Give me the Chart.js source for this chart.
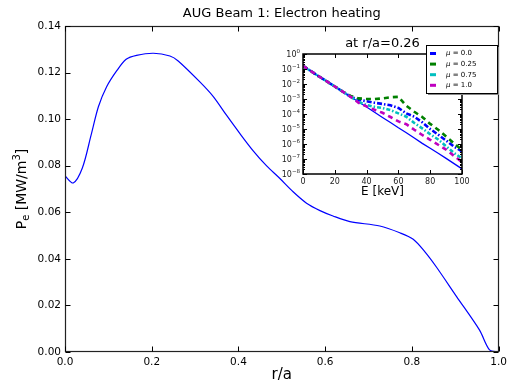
<!DOCTYPE html>
<html>
<head>
<meta charset="utf-8">
<script src="https://cdn.jsdelivr.net/npm/chart.js@4.4.0/dist/chart.umd.min.js"></script>
<style>
html, body { margin: 0; padding: 0; background: #fff; }
#wrap { position: relative; width: 511px; height: 383px; }
canvas { position: absolute; left: 0; top: 0; }
</style>
</head>
<body>
<div id="wrap">
  <canvas id="mainChart" width="511" height="383"></canvas>
  <canvas id="insetChart" width="511" height="383"></canvas>
</div>
<script>
// main profile: electron heating power vs r/a
const rOverA = [0.000, 0.019, 0.040, 0.060, 0.077, 0.096, 0.119, 0.141, 0.165, 0.204, 0.242, 0.261,
    0.311, 0.342, 0.372, 0.403, 0.434, 0.465, 0.495, 0.526, 0.557, 0.588, 0.618, 0.657, 0.726,
    0.772, 0.803, 0.830, 0.856, 0.903, 0.956, 0.979, 1.000];
const pElectron = [0.0756, 0.0726, 0.0790, 0.0930, 0.1053, 0.1139, 0.1207, 0.1257, 0.1274, 0.1283, 0.1271, 0.1250,
    0.1160, 0.1097, 0.1018, 0.0939, 0.0864, 0.0799, 0.0746, 0.0688, 0.0639, 0.0607, 0.0584, 0.0560, 0.0541,
    0.0512, 0.0484, 0.0430, 0.0366, 0.0238, 0.0094, 0.0009, 0.0000];
const mainXTicks = [0.0, 0.2, 0.4, 0.6, 0.8, 1.0];
const mainYTicks = [0.00, 0.02, 0.04, 0.06, 0.08, 0.10, 0.12, 0.14];

// inset: distribution at r/a = 0.26
const energy = [0, 5, 10, 15, 20, 25, 30, 35, 40, 45, 50, 55, 60, 65, 70, 75, 80, 85, 90, 95, 100];
const fMu00 = [1.6e-1, 7.2e-2, 3.2e-2, 1.5e-2, 6.8e-3, 3.1e-3, 1.4e-3, 8.9e-4, 7.1e-4, 5.6e-4, 4.7e-4,
    3.8e-4, 2.5e-4, 1.1e-4, 6.6e-5, 2.8e-5, 1.0e-5, 4.2e-6, 1.7e-6, 6.6e-7, 3.2e-7];
const fMu025 = [1.6e-1, 7.2e-2, 3.2e-2, 1.5e-2, 6.8e-3, 3.1e-3, 1.6e-3, 1.1e-3, 1.0e-3, 1.0e-3, 1.1e-3,
    1.3e-3, 1.4e-3, 3.5e-4, 1.4e-4, 6.3e-5, 2.2e-5, 8.9e-6, 3.2e-6, 1.1e-6, 4.0e-7];
const fMu075 = [1.6e-1, 7.2e-2, 3.2e-2, 1.5e-2, 6.8e-3, 3.1e-3, 1.4e-3, 6.3e-4, 4.0e-4, 3.0e-4, 2.5e-4,
    1.8e-4, 1.1e-4, 6.6e-5, 2.5e-5, 1.1e-5, 4.5e-6, 2.0e-6, 7.1e-7, 2.5e-7, 1.1e-7];
const fMu10 = [1.6e-1, 7.2e-2, 3.2e-2, 1.5e-2, 6.8e-3, 3.1e-3, 1.4e-3, 5.6e-4, 3.2e-4, 1.9e-4, 1.2e-4,
    6.3e-5, 3.2e-5, 2.1e-5, 8.9e-6, 4.0e-6, 1.9e-6, 8.9e-7, 4.2e-7, 1.6e-7, 6.3e-8];
const fBase = [1.6e-1, 7.2e-2, 3.2e-2, 1.5e-2, 6.8e-3, 3.1e-3, 1.4e-3, 6.3e-4, 2.9e-4, 1.3e-4, 5.9e-5,
    2.7e-5, 1.2e-5, 5.6e-6, 2.5e-6, 1.1e-6, 5.2e-7, 2.4e-7, 1.1e-7, 4.9e-8, 2.2e-8];
const insetXTicks = [0, 20, 40, 60, 80, 100];
const insetYExps = [0, -1, -2, -3, -4, -5, -6, -7, -8];

const FONT = "'DejaVu Sans', 'Liberation Sans', sans-serif";

function pts(xs, ys) {
    return xs.map((x, i) => ({ x: x, y: ys[i] }));
}

// draw text made of pieces (for sub/superscripts)
function drawParts(ctx, parts, x, y, align) {
    let total = 0;
    parts.forEach(p => {
        ctx.font = (p.style || '') + ' ' + p.size + 'px ' + FONT;
        p.w = ctx.measureText(p.t).width;
        total += p.w;
    });
    let cx = align === 'right' ? x - total : (align === 'left' ? x : x - total / 2);
    parts.forEach(p => {
        ctx.font = (p.style || '') + ' ' + p.size + 'px ' + FONT;
        ctx.fillText(p.t, cx, y + (p.dy || 0));
        cx += p.w;
    });
}

const mainDecor = {
    id: 'mainDecor',
    afterDraw(chart) {
        const { ctx, chartArea: a, scales } = chart;
        ctx.save();
        ctx.strokeStyle = '#222';
        ctx.lineWidth = 1.2;
        const L = Math.round(a.left) + 0.5, R = Math.round(a.right) - 0.5;
        const T = Math.round(a.top) + 0.5, B = Math.round(a.bottom) - 0.5;
        ctx.strokeRect(L, T, R - L, B - T);
        ctx.lineWidth = 1;
        ctx.strokeStyle = '#000';
        ctx.beginPath();
        mainXTicks.forEach(v => {
            const px = Math.round(scales.x.getPixelForValue(v)) + 0.5;
            ctx.moveTo(px, B); ctx.lineTo(px, B - 5);
            ctx.moveTo(px, T); ctx.lineTo(px, T + 5);
        });
        mainYTicks.forEach(v => {
            const py = Math.round(scales.y.getPixelForValue(v)) + 0.5;
            ctx.moveTo(L, py); ctx.lineTo(L + 5, py);
            ctx.moveTo(R, py); ctx.lineTo(R - 5, py);
        });
        ctx.stroke();

        ctx.fillStyle = '#000';
        ctx.textBaseline = 'middle';
        ctx.textAlign = 'left';
        drawParts(ctx, [{ t: 'AUG Beam 1: Electron heating', size: 13 }], (a.left + a.right) / 2, 14, 'center');
        drawParts(ctx, [{ t: 'r/a', size: 15 }], (a.left + a.right) / 2, 375, 'center');

        ctx.translate(22, (a.top + a.bottom) / 2);
        ctx.rotate(-Math.PI / 2);
        drawParts(ctx, [
            { t: 'P', size: 14 },
            { t: 'e', size: 10, dy: 4 },
            { t: ' [MW/m', size: 14 },
            { t: '3', size: 10, dy: -5 },
            { t: ']', size: 14 }
        ], 0, 0, 'center');
        ctx.restore();
    }
};

const insetDecor = {
    id: 'insetDecor',
    beforeDatasetsDraw(chart) {
        const { ctx, chartArea: a } = chart;
        ctx.save();
        ctx.fillStyle = '#fff';
        ctx.fillRect(a.left, a.top, a.right - a.left, a.bottom - a.top);
        ctx.restore();
    },
    afterDraw(chart) {
        const { ctx, chartArea: a, scales } = chart;
        ctx.save();
        ctx.strokeStyle = '#000';
        ctx.lineWidth = 1.5;
        const L = Math.round(a.left), R = Math.round(a.right);
        const T = Math.round(a.top), B = Math.round(a.bottom);
        ctx.strokeRect(L, T, R - L, B - T);
        ctx.lineWidth = 1;
        ctx.beginPath();
        insetXTicks.forEach(v => {
            const px = Math.round(scales.x.getPixelForValue(v)) + 0.5;
            ctx.moveTo(px, B); ctx.lineTo(px, B - 4);
            ctx.moveTo(px, T); ctx.lineTo(px, T + 4);
        });
        insetYExps.forEach(e => {
            const py = Math.round(scales.y.getPixelForValue(Math.pow(10, e))) + 0.5;
            ctx.moveTo(L, py); ctx.lineTo(L + 4, py);
            ctx.moveTo(R, py); ctx.lineTo(R - 4, py);
            if (e > -8) {
                for (let m = 2; m <= 9; m++) {
                    const pm = Math.round(scales.y.getPixelForValue(m * Math.pow(10, e - 1))) + 0.5;
                    ctx.moveTo(L, pm); ctx.lineTo(L + 2, pm);
                    ctx.moveTo(R, pm); ctx.lineTo(R - 2, pm);
                }
            }
        });
        ctx.stroke();

        // y tick labels with superscripts
        ctx.fillStyle = '#222';
        ctx.textBaseline = 'middle';
        ctx.textAlign = 'left';
        insetYExps.forEach(e => {
            const py = scales.y.getPixelForValue(Math.pow(10, e));
            drawParts(ctx, [
                { t: '10', size: 8 },
                { t: String(e).replace('-', '\u2212'), size: 5.5, dy: -3 }
            ], L - 3, py + 1, 'right');
        });

        ctx.fillStyle = '#000';
        drawParts(ctx, [{ t: 'at r/a=0.26', size: 13 }], (a.left + a.right) / 2, 44, 'center');
        drawParts(ctx, [{ t: 'E [keV]', size: 12 }], (a.left + a.right) / 2, 192, 'center');

        // legend
        const bx = 426, by = 45, bw = 71, bh = 48;
        ctx.fillStyle = '#888';
        ctx.fillRect(bx + 2, by + 2, bw, bh);
        ctx.fillStyle = '#fff';
        ctx.fillRect(bx, by, bw, bh);
        ctx.strokeStyle = '#000';
        ctx.lineWidth = 1;
        ctx.strokeRect(bx + 0.5, by + 0.5, bw, bh);
        const items = chart.data.datasets.filter(d => !d.hideInLegend);
        items.forEach((d, i) => {
            const ry = by + 8.5 + i * 10.6;
            ctx.strokeStyle = d.borderColor;
            ctx.lineWidth = 3;
            ctx.beginPath();
            ctx.moveTo(bx + 4, ry); ctx.lineTo(bx + 10, ry);
            ctx.stroke();
            ctx.fillStyle = '#000';
            drawParts(ctx, [
                { t: d.label.charAt(0), size: 7, style: 'italic' },
                { t: d.label.slice(1), size: 7 }
            ], bx + 20, ry, 'left');
        });
        ctx.restore();
    }
};

new Chart(document.getElementById('mainChart'), {
    type: 'scatter',
    data: {
        datasets: [{
            label: 'P_e',
            data: pts(rOverA, pElectron),
            showLine: true,
            borderColor: '#0000ff',
            borderWidth: 1.2,
            pointRadius: 0,
            tension: 0.3
        }]
    },
    options: {
        responsive: false,
        animation: false,
        layout: { padding: { top: 26, right: 12, left: 0, bottom: 0 } },
        plugins: { legend: { display: false }, tooltip: { enabled: false } },
        scales: {
            x: {
                type: 'linear', min: 0, max: 1,
                afterBuildTicks: s => { s.ticks = mainXTicks.map(v => ({ value: v })); },
                afterFit: s => { s.height = 31; },
                grid: { display: false, drawTicks: false },
                border: { display: false },
                ticks: {
                    padding: 4, color: '#000', maxRotation: 0,
                    font: { family: FONT, size: 10.5 },
                    callback: v => v.toFixed(1)
                }
            },
            y: {
                type: 'linear', min: 0, max: 0.14,
                afterBuildTicks: s => { s.ticks = mainYTicks.map(v => ({ value: v })); },
                afterFit: s => { s.width = 65; },
                grid: { display: false, drawTicks: false },
                border: { display: false },
                ticks: {
                    padding: 4, color: '#000',
                    font: { family: FONT, size: 10.5 },
                    callback: v => v.toFixed(2)
                }
            }
        }
    },
    plugins: [mainDecor]
});

new Chart(document.getElementById('insetChart'), {
    type: 'scatter',
    data: {
        datasets: [
            { label: '\u03bc = 0.0', data: pts(energy, fMu00), borderColor: '#0000ff', borderDash: [5, 2, 1.5, 2], order: 3 },
            { label: '\u03bc = 0.25', data: pts(energy, fMu025), borderColor: '#008000', borderDash: [5, 4], order: 2 },
            { label: '\u03bc = 0.75', data: pts(energy, fMu075), borderColor: '#00bfbf', borderDash: [4, 2, 1.5, 2], order: 1 },
            { label: '\u03bc = 1.0', data: pts(energy, fMu10), borderColor: '#bf00bf', borderDash: [5, 4], order: 0 },
            { label: 'base', data: pts(energy, fBase), borderColor: '#0000ff', borderWidth: 1.3, hideInLegend: true, order: 4 }
        ].map(d => Object.assign({ showLine: true, pointRadius: 0, borderWidth: 2.6, tension: 0 }, d))
    },
    options: {
        responsive: false,
        animation: false,
        layout: { padding: { top: 54, right: 49, left: 273, bottom: 189 } },
        plugins: { legend: { display: false }, tooltip: { enabled: false } },
        scales: {
            x: {
                type: 'linear', min: 0, max: 100,
                afterBuildTicks: s => { s.ticks = insetXTicks.map(v => ({ value: v })); },
                afterFit: s => { s.height = 20; },
                grid: { display: false, drawTicks: false },
                border: { display: false },
                ticks: { padding: 3, color: '#222', maxRotation: 0, font: { family: FONT, size: 8 } }
            },
            y: {
                type: 'logarithmic', min: 1e-8, max: 1,
                afterFit: s => { s.width = 30; },
                grid: { display: false, drawTicks: false },
                border: { display: false },
                ticks: { display: false }
            }
        }
    },
    plugins: [insetDecor]
});
</script>
</body>
</html>
